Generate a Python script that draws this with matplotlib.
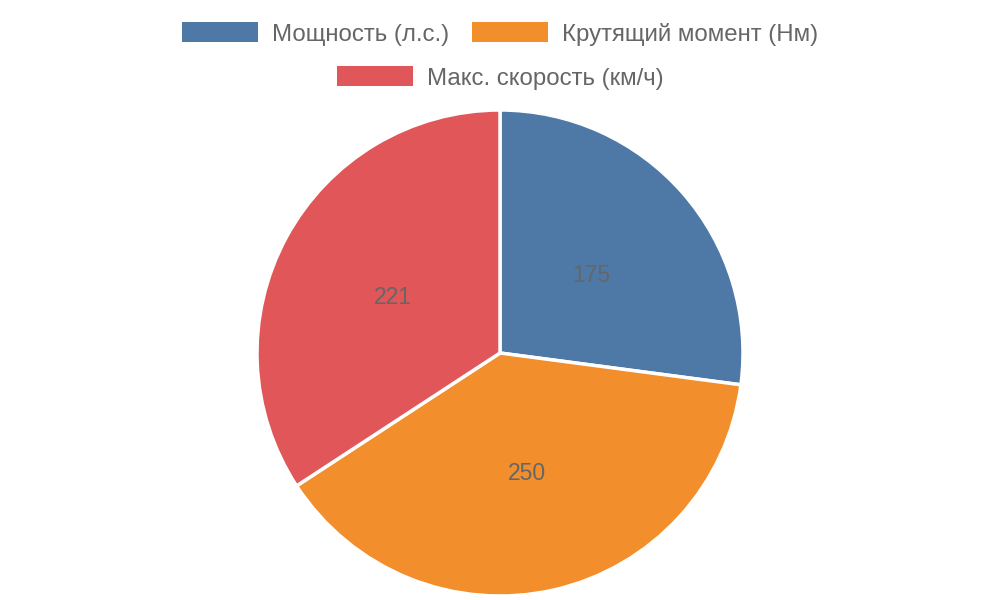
import matplotlib.pyplot as plt
import matplotlib.patches as mpatches

plt.rcParams['font.family'] = ['Liberation Sans', 'DejaVu Sans']

# data
labels = ['Мощность (л.с.)', 'Крутящий момент (Нм)', 'Макс. скорость (км/ч)']
values = [175, 250, 221]
colors = ['#4e79a7', '#f28e2b', '#e15759']
text_color = '#666666'

W, H = 1000, 600
fig = plt.figure(figsize=(W / 100, H / 100), dpi=100)

# pie axes: center (500, 353) px, radius 243 px
cx, cy, r = 500, 353, 243
ax = fig.add_axes([(cx - r) / W, (H - cy - r) / H, 2 * r / W, 2 * r / H])
wedges, texts = ax.pie(values, colors=colors, startangle=90, counterclock=False, radius=1,
                       labels=[str(v) for v in values], labeldistance=0.5,
                       textprops=dict(color=text_color, fontsize=16.5),
                       wedgeprops=dict(edgecolor='white', linewidth=2.5))
for t in texts:
    t.set_ha('center')
    t.set_va('center_baseline')
ax.set_xlim(-1, 1)
ax.set_ylim(-1, 1)
ax.set_aspect('auto')
ax.axis('off')

# legend, drawn by hand so each row is centred
box_w, box_h, gap_txt, gap_item = 76, 20, 14, 22
rows = [[0, 1], [2]]
row_y = [32, 76]
fs = 17.3
renderer = fig.canvas.get_renderer()


def text_width(s):
    t = fig.text(0, 0, s, fontsize=fs)
    w = t.get_window_extent(renderer).width
    t.remove()
    return w


for row, yc in zip(rows, row_y):
    widths = [box_w + gap_txt + text_width(labels[i]) for i in row]
    total = sum(widths) + gap_item * (len(row) - 1)
    x = (W - total) / 2
    for i, w in zip(row, widths):
        fig.patches.append(mpatches.Rectangle(
            (x / W, (H - yc - box_h / 2) / H), box_w / W, box_h / H,
            facecolor=colors[i], edgecolor='none', transform=fig.transFigure))
        fig.text((x + box_w + gap_txt) / W, (H - yc) / H, labels[i],
                 fontsize=fs, color=text_color, va='center_baseline', ha='left')
        x += w + gap_item

fig.savefig('out.png', dpi=100)
